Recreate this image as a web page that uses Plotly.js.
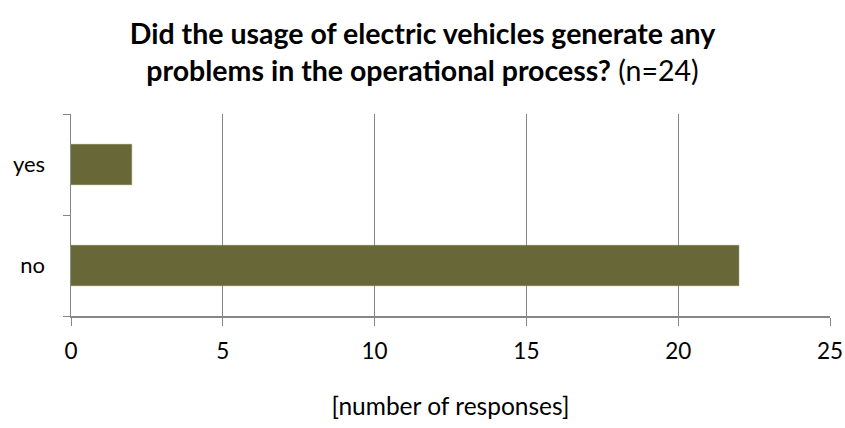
<!DOCTYPE html>
<html>
<head>
<meta charset="utf-8">
<script src="https://cdn.plot.ly/plotly-3.0.1.min.js"></script>
<style>html,body{margin:0;padding:0;background:#fff;}#chart{width:845px;height:428px;}</style>
</head>
<body>
<div id="chart"></div>
<script>
const categories = ["no", "yes"];
const responses = [22, 2];
const xTicks = [0, 5, 10, 15, 20, 25];

const titleText = "<b>Did the usage of electric vehicles generate any</b><br><b>problems in the operational process?</b> (n=24)";
const xTitle = "[number of responses]";

const font = "Lato, Carlito, 'Open Sans', sans-serif";
const axisGray = "#878787";

const data = [{
  type: "bar",
  orientation: "h",
  x: responses,
  y: categories,
  marker: {color: "#676737", line: {color: "#7a7a4a", width: 0.5}},
  hoverinfo: "x+y"
}];

const layout = {
  width: 845,
  height: 428,
  paper_bgcolor: "#ffffff",
  plot_bgcolor: "#ffffff",
  margin: {l: 71, r: 15, t: 114, b: 112},
  bargap: 0.6,
  showlegend: false,
  font: {family: font, color: "#000000", size: 22},
  title: {
    text: titleText,
    font: {family: font, size: 28.5, color: "#000000"},
    x: 0.5, xanchor: "center",
    y: 0.897, yref: "container", yanchor: "middle"
  },
  xaxis: {
    range: [0, 25],
    tickvals: xTicks,
    ticktext: xTicks.map(String),
    showgrid: true,
    gridcolor: axisGray,
    gridwidth: 1,
    zeroline: false,
    showline: true,
    linecolor: axisGray,
    linewidth: 1.5,
    ticks: "outside",
    ticklen: 8,
    tickcolor: axisGray,
    tickwidth: 1,
    ticklabelstandoff: 6,
    tickfont: {family: font, size: 22.5, color: "#000000"},
    title: {text: xTitle, font: {family: font, size: 24.5, color: "#000000"}, standoff: 35},
    fixedrange: true
  },
  yaxis: {
    type: "category",
    categoryorder: "array",
    categoryarray: categories,
    showgrid: false,
    zeroline: false,
    showline: true,
    linecolor: axisGray,
    linewidth: 1.5,
    ticks: "outside",
    tickson: "boundaries",
    ticklen: 7,
    tickcolor: axisGray,
    tickwidth: 1,
    ticklabelstandoff: 20,
    tickfont: {family: font, size: 22, color: "#000000"},
    fixedrange: true
  }
};

Plotly.newPlot("chart", data, layout, {displayModeBar: false, staticPlot: true});
</script>
</body>
</html>
